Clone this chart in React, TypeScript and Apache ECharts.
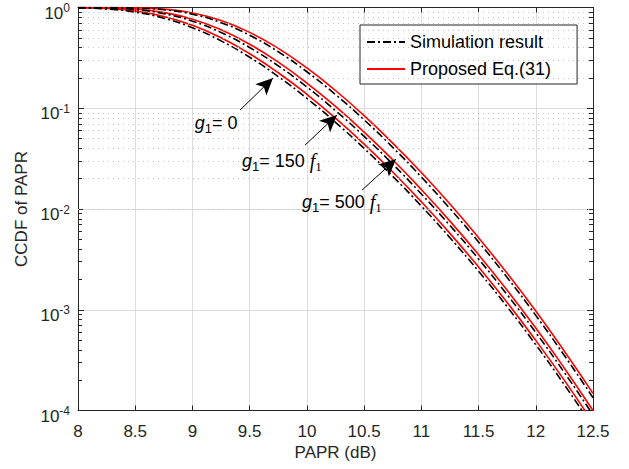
import React, { useEffect, useRef } from 'react';
import * as echarts from 'echarts';

// PAPR axis samples (dB)
const papr = [8, 8.25, 8.5, 8.75, 9, 9.25, 9.5, 9.75, 10, 10.25, 10.5, 10.75, 11, 11.25, 11.5, 11.75, 12, 12.25, 12.5];

// g1 = 0
const eqG0 = [0.9954, 0.9763, 0.9214, 0.8156, 0.666, 0.5001, 0.3473, 0.2252, 0.1375, 0.0797, 0.0441, 0.0233, 0.0118, 0.00573, 0.00266, 0.00118, 4.97e-4, 1.99e-4, 7.56e-5];
const simG0 = [0.9924, 0.9663, 0.9001, 0.7837, 0.6296, 0.4663, 0.3205, 0.2063, 0.1254, 0.0725, 0.04, 0.0211, 0.0107, 0.00519, 0.00241, 0.00107, 4.5e-4, 1.8e-4, 6.85e-5];
// g1 = 150 f1
const eqG150 = [0.9992, 0.993, 0.9656, 0.8934, 0.766, 0.6008, 0.4317, 0.2867, 0.1779, 0.1042, 0.058, 0.0308, 0.0156, 0.00758, 0.00352, 0.00156, 6.58e-4, 2.63e-4, 1.0e-4];
const simG150 = [0.9984, 0.9887, 0.9526, 0.8681, 0.7313, 0.5643, 0.4003, 0.2634, 0.1624, 0.0947, 0.0526, 0.0279, 0.0141, 0.00686, 0.00319, 0.00141, 5.95e-4, 2.38e-4, 9.05e-5];
// g1 = 500 f1
const eqG500 = [1.0, 0.9993, 0.9931, 0.9634, 0.883, 0.7424, 0.566, 0.3929, 0.2512, 0.15, 0.0844, 0.0451, 0.023, 0.0112, 0.00519, 0.0023, 9.72e-4, 3.88e-4, 1.48e-4];
const simG500 = [0.9999, 0.9987, 0.9889, 0.9498, 0.8564, 0.7069, 0.5301, 0.3634, 0.2303, 0.1367, 0.0767, 0.0409, 0.0208, 0.0101, 0.00471, 0.00209, 8.79e-4, 3.51e-4, 1.34e-4];

const legendNames = ['Simulation result', 'Proposed Eq.(31)'];
const minorMantissas = [2, 3, 4, 5, 6, 7, 8, 9];
const minorDecades = [-4, -3, -2, -1];

// annotations: label text position and arrow (start -> tip), in data units
const annotations = [
  { g: '0', f: false, tx: 9.02, ty: 0.0713, ax: 9.416, ay: 0.096, bx: 9.704, by: 0.1995 },
  { g: '150 ', f: true, tx: 9.433, ty: 0.0299, ax: 9.984, ay: 0.0431, bx: 10.263, by: 0.0856 },
  { g: '500 ', f: true, tx: 9.957, ty: 0.0117, ax: 10.482, ay: 0.01541, bx: 10.779, by: 0.0313 },
];

const SANS = 'Liberation Sans, Arial, Helvetica, sans-serif';
const SERIF = 'Liberation Serif, Times New Roman, serif';
const AX = '#262626';

function pairs(ys: number[]) {
  return papr.map((x, i) => [x, ys[i]]);
}

export default function App() {
  const ref = useRef<HTMLDivElement>(null);
  useEffect(() => {
    if (!ref.current) return;
    const chart = echarts.init(ref.current, null, { renderer: 'svg' });

    const minorVals: number[] = [];
    minorDecades.forEach((d) => minorMantissas.forEach((m) => minorVals.push(m * Math.pow(10, d))));

    const redStyle = { color: '#ff0000', width: 1.6, type: 'solid' as const };
    const dashStyle = { color: '#000000', width: 1.6, type: [8, 3, 2, 3] };

    const curve = (name: string, ys: number[], style: any, z: number) => ({
      name,
      type: 'line',
      data: pairs(ys),
      showSymbol: false,
      symbol: 'none',
      smooth: 0.5,
      lineStyle: style,
      itemStyle: { color: style.color },
      clip: true,
      z,
    });

    const labelRich = {
      g: { fontFamily: SANS, fontStyle: 'italic', fontSize: 18, lineHeight: 24, color: '#000' },
      s: { fontFamily: SANS, fontSize: 13, lineHeight: 12, verticalAlign: 'bottom', color: '#000' },
      t: { fontFamily: SANS, fontSize: 18, lineHeight: 24, color: '#000' },
      f: { fontFamily: SERIF, fontStyle: 'italic', fontSize: 20, lineHeight: 24, color: '#000' },
      fs: { fontFamily: SERIF, fontSize: 13, lineHeight: 12, verticalAlign: 'bottom', color: '#000' },
    };

    const option: any = {
      animation: false,
      backgroundColor: '#ffffff',
      grid: { left: 78, right: 36, top: 7.5, bottom: 58.5, containLabel: false },
      legend: {
        data: legendNames,
        orient: 'vertical',
        left: 360,
        top: 25,
        padding: [7, 26, 5, 6],
        itemWidth: 38,
        itemHeight: 14,
        itemGap: 7,
        backgroundColor: '#ffffff',
        borderColor: AX,
        borderWidth: 1,
        borderRadius: 0,
        itemStyle: { opacity: 0 },
        textStyle: { fontFamily: SANS, fontSize: 18, color: '#000', lineHeight: 20 },
      },
      xAxis: [
        {
          type: 'value',
          min: 8,
          max: 12.5,
          interval: 0.5,
          position: 'bottom',
          name: 'PAPR (dB)',
          nameLocation: 'middle',
          nameGap: 31,
          nameTextStyle: { fontFamily: SANS, fontSize: 17, color: AX },
          axisLine: { show: true, onZero: false, lineStyle: { color: AX, width: 1 } },
          axisTick: { show: true, inside: true, length: 5, lineStyle: { color: AX } },
          axisLabel: { fontFamily: SANS, fontSize: 17, color: AX, margin: 12, formatter: (v: number) => String(v) },
          splitLine: { show: true, lineStyle: { color: '#dcdcdc', width: 1 } },
        },
        {
          type: 'value',
          min: 8,
          max: 12.5,
          interval: 0.5,
          position: 'top',
          axisLine: { show: true, onZero: false, lineStyle: { color: AX, width: 1 } },
          axisTick: { show: true, inside: true, length: 5, lineStyle: { color: AX } },
          axisLabel: { show: false },
          splitLine: { show: false },
        },
      ],
      yAxis: [
        {
          type: 'log',
          logBase: 10,
          min: 1e-4,
          max: 1,
          interval: 1,
          position: 'left',
          name: 'CCDF of PAPR',
          nameLocation: 'middle',
          nameGap: 48,
          nameRotate: 90,
          nameTextStyle: { fontFamily: SANS, fontSize: 17, color: AX },
          axisLine: { show: true, onZero: false, lineStyle: { color: AX, width: 1 } },
          axisTick: { show: true, inside: true, length: 6, lineStyle: { color: AX } },
          axisLabel: {
            margin: 8,
            padding: [11, 0, 0, 0],
            formatter: (v: number) => `{b|10}{s|${Math.round(Math.log10(v))}}`,
            rich: {
              b: { fontFamily: SANS, fontSize: 17, lineHeight: 22, color: AX },
              s: { fontFamily: SANS, fontSize: 12, lineHeight: 12, verticalAlign: 'top', color: AX },
            },
          },
          splitLine: { show: true, lineStyle: { color: '#dcdcdc', width: 1 } },
        },
        {
          type: 'log',
          logBase: 10,
          min: 1e-4,
          max: 1,
          interval: 1,
          position: 'right',
          axisLine: { show: true, onZero: false, lineStyle: { color: AX, width: 1 } },
          axisTick: { show: true, inside: true, length: 6, lineStyle: { color: AX } },
          axisLabel: { show: false },
          splitLine: { show: false },
        },
      ],
      series: [
        {
          name: 'minor-grid',
          type: 'line',
          data: [[8, 1]],
          symbol: 'none',
          lineStyle: { width: 0, opacity: 0 },
          silent: true,
          z: 1,
          markLine: {
            silent: true,
            symbol: 'none',
            label: { show: false },
            animation: false,
            lineStyle: { color: '#c4c4c4', width: 1, type: [1, 4] },
            emphasis: { disabled: true },
            data: minorVals.map((v) => ({ yAxis: v })),
          },
        },
        {
          name: 'minor-ticks',
          type: 'line',
          data: [[8, 1]],
          symbol: 'none',
          lineStyle: { width: 0, opacity: 0 },
          silent: true,
          z: 3,
          markLine: {
            silent: true,
            symbol: 'none',
            label: { show: false },
            animation: false,
            lineStyle: { color: AX, width: 1, type: 'solid' },
            emphasis: { disabled: true },
            data: minorVals.flatMap((v) => [
              [{ coord: [8, v] }, { coord: [8.035, v] }],
              [{ coord: [12.465, v] }, { coord: [12.5, v] }],
            ]),
          },
        },
        curve(legendNames[1], eqG0, redStyle, 4),
        curve(legendNames[1], eqG150, redStyle, 4),
        curve(legendNames[1], eqG500, redStyle, 4),
        curve(legendNames[0], simG0, dashStyle, 5),
        curve(legendNames[0], simG150, dashStyle, 5),
        curve(legendNames[0], simG500, dashStyle, 5),
        {
          name: 'annotations',
          type: 'line',
          data: [[8, 1]],
          symbol: 'none',
          lineStyle: { width: 0, opacity: 0 },
          silent: true,
          z: 6,
          markLine: {
            silent: true,
            symbol: ['none', 'arrow'],
            symbolSize: [12, 17],
            label: { show: false },
            animation: false,
            lineStyle: { color: '#000', width: 1, type: 'solid' },
            itemStyle: { color: '#000' },
            emphasis: { disabled: true },
            data: annotations.map((a) => [{ coord: [a.ax, a.ay] }, { coord: [a.bx, a.by] }]),
          },
          markPoint: {
            silent: true,
            symbol: 'circle',
            symbolSize: 0,
            animation: false,
            itemStyle: { color: 'transparent' },
            label: {
              show: true,
              position: 'right',
              distance: 0,
              rich: labelRich,
            },
            data: annotations.map((a) => ({
              coord: [a.tx, a.ty],
              label: {
                formatter: a.f ? `{g|g}{s|1}{t|= ${a.g}}{f|f}{fs|1}` : `{g|g}{s|1}{t|= ${a.g}}`,
              },
            })),
          },
        },
      ],
    };
    chart.setOption(option);
    return () => chart.dispose();
  }, []);
  return <div ref={ref} style={{ position: 'fixed', left: 0, top: 0, width: 629, height: 469 }} />;
}
